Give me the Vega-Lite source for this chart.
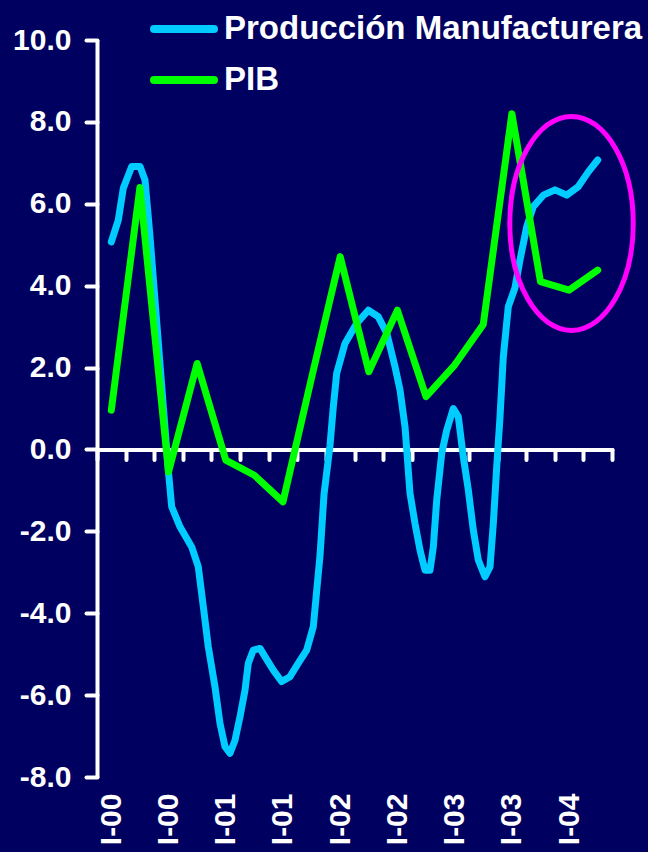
{
  "$schema": "https://vega.github.io/schema/vega-lite/v6.json",
  "width": 515,
  "height": 737,
  "autosize": {"type": "none"},
  "padding": {"left": 97, "top": 40, "right": 36, "bottom": 75},
  "background": "#000060",
  "config": {"view": {"stroke": null}, "font": "Liberation Sans"},
  "datasets": {
    "manufactura": [
      {"serie": "Producción Manufacturera", "t": 0.5, "v": 5.07},
      {"serie": "Producción Manufacturera", "t": 0.744, "v": 5.6},
      {"serie": "Producción Manufacturera", "t": 0.919, "v": 6.38},
      {"serie": "Producción Manufacturera", "t": 1.213, "v": 6.91},
      {"serie": "Producción Manufacturera", "t": 1.503, "v": 6.91},
      {"serie": "Producción Manufacturera", "t": 1.678, "v": 6.58},
      {"serie": "Producción Manufacturera", "t": 1.853, "v": 5.2},
      {"serie": "Producción Manufacturera", "t": 2.492, "v": -0.5},
      {"serie": "Producción Manufacturera", "t": 2.611, "v": -1.4},
      {"serie": "Producción Manufacturera", "t": 2.901, "v": -1.89},
      {"serie": "Producción Manufacturera", "t": 3.31, "v": -2.38},
      {"serie": "Producción Manufacturera", "t": 3.541, "v": -2.87},
      {"serie": "Producción Manufacturera", "t": 3.716, "v": -3.84},
      {"serie": "Producción Manufacturera", "t": 3.89, "v": -4.82},
      {"serie": "Producción Manufacturera", "t": 4.124, "v": -5.8},
      {"serie": "Producción Manufacturera", "t": 4.299, "v": -6.69},
      {"serie": "Producción Manufacturera", "t": 4.474, "v": -7.26},
      {"serie": "Producción Manufacturera", "t": 4.649, "v": -7.42},
      {"serie": "Producción Manufacturera", "t": 4.824, "v": -7.1},
      {"serie": "Producción Manufacturera", "t": 4.998, "v": -6.53},
      {"serie": "Producción Manufacturera", "t": 5.173, "v": -5.88},
      {"serie": "Producción Manufacturera", "t": 5.288, "v": -5.22},
      {"serie": "Producción Manufacturera", "t": 5.463, "v": -4.9},
      {"serie": "Producción Manufacturera", "t": 5.698, "v": -4.86},
      {"serie": "Producción Manufacturera", "t": 5.872, "v": -5.06},
      {"serie": "Producción Manufacturera", "t": 6.162, "v": -5.39},
      {"serie": "Producción Manufacturera", "t": 6.456, "v": -5.67},
      {"serie": "Producción Manufacturera", "t": 6.746, "v": -5.55},
      {"serie": "Producción Manufacturera", "t": 7.036, "v": -5.22},
      {"serie": "Producción Manufacturera", "t": 7.33, "v": -4.9},
      {"serie": "Producción Manufacturera", "t": 7.56, "v": -4.33},
      {"serie": "Producción Manufacturera", "t": 7.672, "v": -3.5},
      {"serie": "Producción Manufacturera", "t": 7.794, "v": -2.6},
      {"serie": "Producción Manufacturera", "t": 7.934, "v": -1.1},
      {"serie": "Producción Manufacturera", "t": 8.144, "v": 0.1},
      {"serie": "Producción Manufacturera", "t": 8.259, "v": 1.04},
      {"serie": "Producción Manufacturera", "t": 8.378, "v": 1.86},
      {"serie": "Producción Manufacturera", "t": 8.668, "v": 2.59},
      {"serie": "Producción Manufacturera", "t": 9.077, "v": 3.08},
      {"serie": "Producción Manufacturera", "t": 9.483, "v": 3.4},
      {"serie": "Producción Manufacturera", "t": 9.832, "v": 3.24},
      {"serie": "Producción Manufacturera", "t": 10.126, "v": 2.84},
      {"serie": "Producción Manufacturera", "t": 10.416, "v": 2.02},
      {"serie": "Producción Manufacturera", "t": 10.591, "v": 1.45},
      {"serie": "Producción Manufacturera", "t": 10.766, "v": 0.55},
      {"serie": "Producción Manufacturera", "t": 10.94, "v": -1.07},
      {"serie": "Producción Manufacturera", "t": 11.115, "v": -1.81},
      {"serie": "Producción Manufacturera", "t": 11.29, "v": -2.46},
      {"serie": "Producción Manufacturera", "t": 11.465, "v": -2.95},
      {"serie": "Producción Manufacturera", "t": 11.639, "v": -2.95},
      {"serie": "Producción Manufacturera", "t": 11.755, "v": -2.38},
      {"serie": "Producción Manufacturera", "t": 11.873, "v": -1.24},
      {"serie": "Producción Manufacturera", "t": 12.048, "v": -0.1},
      {"serie": "Producción Manufacturera", "t": 12.223, "v": 0.47},
      {"serie": "Producción Manufacturera", "t": 12.454, "v": 1.0},
      {"serie": "Producción Manufacturera", "t": 12.628, "v": 0.8},
      {"serie": "Producción Manufacturera", "t": 12.803, "v": -0.18},
      {"serie": "Producción Manufacturera", "t": 12.978, "v": -0.99},
      {"serie": "Producción Manufacturera", "t": 13.153, "v": -1.97},
      {"serie": "Producción Manufacturera", "t": 13.327, "v": -2.7},
      {"serie": "Producción Manufacturera", "t": 13.561, "v": -3.11},
      {"serie": "Producción Manufacturera", "t": 13.736, "v": -2.87},
      {"serie": "Producción Manufacturera", "t": 13.852, "v": -1.81},
      {"serie": "Producción Manufacturera", "t": 13.971, "v": -0.42},
      {"serie": "Producción Manufacturera", "t": 14.086, "v": 0.8},
      {"serie": "Producción Manufacturera", "t": 14.201, "v": 2.26},
      {"serie": "Producción Manufacturera", "t": 14.376, "v": 3.49},
      {"serie": "Producción Manufacturera", "t": 14.61, "v": 3.95},
      {"serie": "Producción Manufacturera", "t": 14.785, "v": 4.63},
      {"serie": "Producción Manufacturera", "t": 15.019, "v": 5.44},
      {"serie": "Producción Manufacturera", "t": 15.25, "v": 5.93},
      {"serie": "Producción Manufacturera", "t": 15.599, "v": 6.21},
      {"serie": "Producción Manufacturera", "t": 16.008, "v": 6.34},
      {"serie": "Producción Manufacturera", "t": 16.417, "v": 6.21},
      {"serie": "Producción Manufacturera", "t": 16.823, "v": 6.42},
      {"serie": "Producción Manufacturera", "t": 17.172, "v": 6.78},
      {"serie": "Producción Manufacturera", "t": 17.5, "v": 7.07}
    ],
    "pib": [
      {"serie": "PIB", "t": 0.5, "v": 0.96},
      {"serie": "PIB", "t": 1.5, "v": 6.4},
      {"serie": "PIB", "t": 2.5, "v": -0.55},
      {"serie": "PIB", "t": 3.5, "v": 2.1},
      {"serie": "PIB", "t": 4.5, "v": -0.26},
      {"serie": "PIB", "t": 5.5, "v": -0.63},
      {"serie": "PIB", "t": 6.5, "v": -1.28},
      {"serie": "PIB", "t": 7.5, "v": 1.75},
      {"serie": "PIB", "t": 8.5, "v": 4.71},
      {"serie": "PIB", "t": 9.5, "v": 1.9},
      {"serie": "PIB", "t": 10.5, "v": 3.4},
      {"serie": "PIB", "t": 11.5, "v": 1.29},
      {"serie": "PIB", "t": 12.5, "v": 2.06},
      {"serie": "PIB", "t": 13.5, "v": 3.05},
      {"serie": "PIB", "t": 14.5, "v": 8.2},
      {"serie": "PIB", "t": 15.5, "v": 4.1},
      {"serie": "PIB", "t": 16.5, "v": 3.89},
      {"serie": "PIB", "t": 17.5, "v": 4.38}
    ],
    "resaltado": [
      {"t": 16.585, "v": 5.52}
    ]
  },
  "resolve": {"axis": {"x": "independent", "y": "independent"}},
  "layer": [
    {
      "data": {"name": "manufactura"},
      "mark": {"type": "line", "strokeWidth": 7, "strokeCap": "round", "strokeJoin": "round"},
      "encoding": {
        "x": {
          "field": "t", "type": "quantitative",
          "scale": {"domain": [0, 18], "nice": false, "zero": false},
          "axis": {
            "orient": "bottom", "offset": -327.6, "title": null, "grid": false, "labels": false,
            "values": [0, 1, 2, 3, 4, 5, 6, 7, 8, 9, 10, 11, 12, 13, 14, 15, 16, 17, 18],
            "domainColor": "white", "domainWidth": 4, "domainCap": "round",
            "tickColor": "white", "tickWidth": 4, "tickSize": 10, "tickCap": "round"
          }
        },
        "y": {
          "field": "v", "type": "quantitative",
          "scale": {"domain": [-8, 10], "nice": false, "zero": false},
          "axis": {
            "title": null, "grid": false,
            "labelExpr": "replace(format(datum.value, '.1f'), '\u2212', '-')",
            "values": [-8, -6, -4, -2, 0, 2, 4, 6, 8, 10],
            "domainColor": "white", "domainWidth": 4,
            "tickColor": "white", "tickWidth": 4, "tickSize": 11, "tickCap": "round",
            "labelColor": "white", "labelFont": "Liberation Sans", "labelFontWeight": "bold",
            "labelFontSize": 30, "labelPadding": 15, "labelOverlap": false, "labelFlush": false
          }
        },
        "color": {
          "field": "serie", "type": "nominal",
          "scale": {"domain": ["Producción Manufacturera", "PIB"], "range": ["#00CCFF", "#00FF00"]},
          "legend": {
            "orient": "none", "legendX": 53, "legendY": -45, "title": null,
            "symbolType": "stroke", "symbolSize": 3600, "symbolStrokeWidth": 8,
            "labelColor": "white", "labelFont": "Liberation Sans", "labelFontWeight": "bold",
            "labelFontSize": 33, "labelLimit": 1000, "labelOffset": 6, "rowPadding": 0,
            "encode": {"symbols": {"update": {"strokeCap": {"value": "round"}}}}
          }
        }
      }
    },
    {
      "data": {"name": "pib"},
      "mark": {"type": "line", "strokeWidth": 7, "strokeCap": "round", "strokeJoin": "round"},
      "encoding": {
        "x": {"field": "t", "type": "quantitative", "axis": null},
        "y": {"field": "v", "type": "quantitative", "axis": null},
        "color": {"field": "serie", "type": "nominal"}
      }
    },
    {
      "data": {"name": "resaltado"},
      "mark": {
        "type": "point",
        "shape": "M0,-1A0.577,1,0,1,1,0,1A0.577,1,0,1,1,0,-1Z",
        "size": 45796, "filled": false, "stroke": "#FF00FF", "strokeWidth": 5, "opacity": 1
      },
      "encoding": {
        "x": {
          "field": "t", "type": "quantitative",
          "axis": {
            "orient": "bottom", "title": null, "grid": false, "domain": false, "ticks": false,
            "tickSize": 0, "values": [0.5, 2.5, 4.5, 6.5, 8.5, 10.5, 12.5, 14.5, 16.5],
            "labelExpr": "'I-0' + floor(datum.value / 4)",
            "labelAngle": 270, "labelPadding": 16, "labelColor": "white",
            "labelFont": "Liberation Sans", "labelFontWeight": "bold", "labelFontSize": 30,
            "labelOverlap": false, "labelFlush": false, "labelBound": false
          }
        },
        "y": {"field": "v", "type": "quantitative", "axis": null}
      }
    }
  ]
}
